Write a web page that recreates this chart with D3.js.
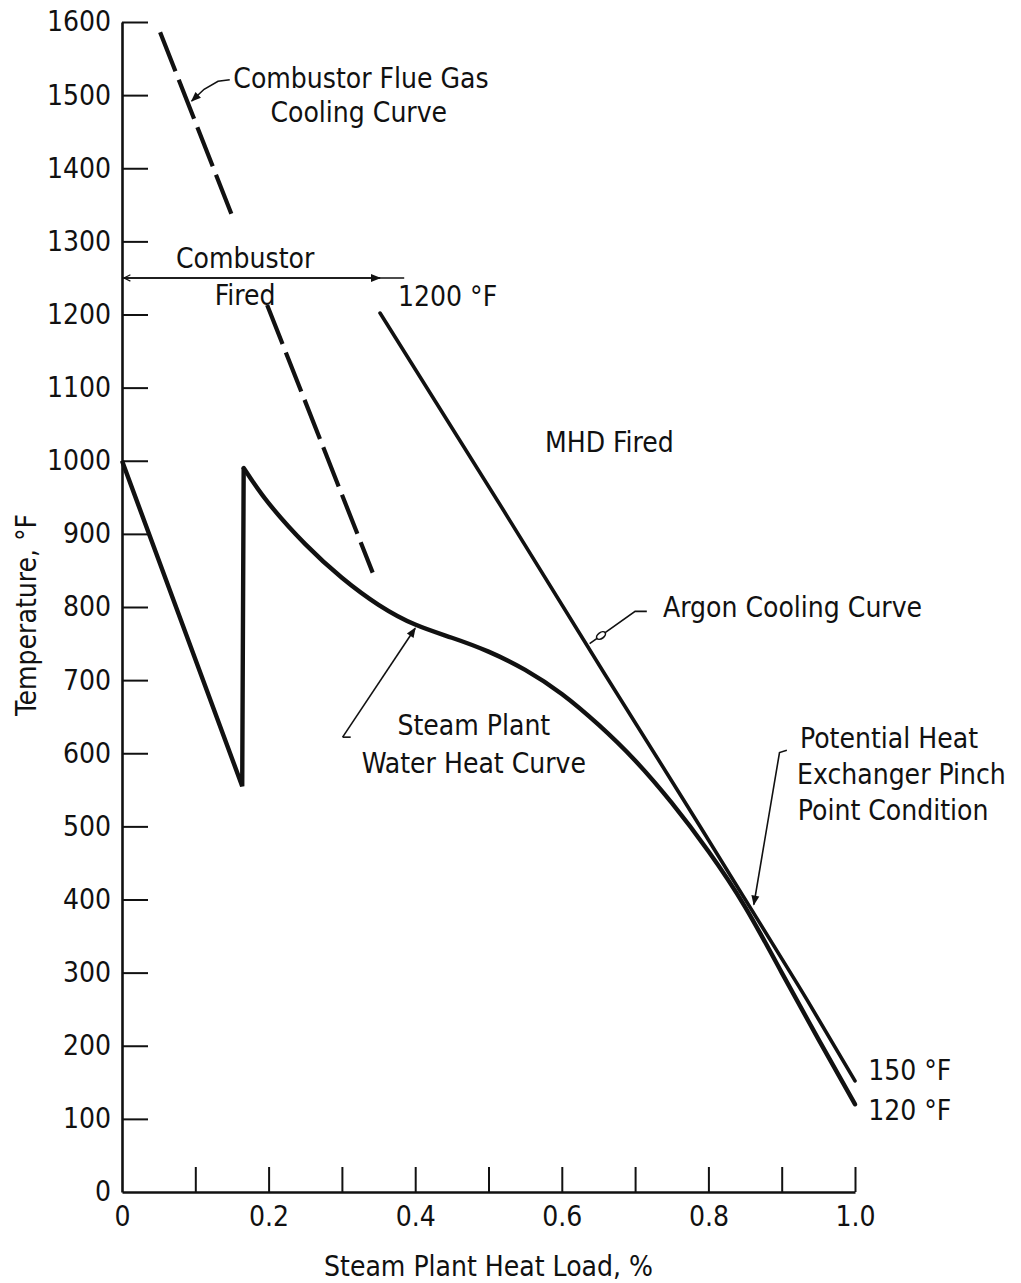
<!DOCTYPE html>
<html><head><meta charset="utf-8">
<script src="https://cdn.jsdelivr.net/npm/d3@7"></script>
<style>
body{margin:0;background:#fff}
svg text{font-family:"Liberation Sans Narrow","DejaVu Sans Condensed","Arial Narrow",sans-serif;fill:#111;font-stretch:condensed}
</style></head><body><svg id="c" width="1021" height="1283"></svg>
<script>
// ---- data ----
const xTicks = [0, 0.1, 0.2, 0.3, 0.4, 0.5, 0.6, 0.7, 0.8, 0.9, 1.0];
const xTickLabels = ["0", "", "0.2", "", "0.4", "", "0.6", "", "0.8", "", "1.0"];
const yTicks = [0,100,200,300,400,500,600,700,800,900,1000,1100,1200,1300,1400,1500,1600];
const yTickLabels = ["0","100","200","300","400","500","600","700","800","900","1000","1100","1200","1300","1400","1500","1600"];

// Steam plant water heat curve: sawtooth part, then smooth part
const steamSawX = [0, 0.164, 0.166];
const steamSawT = [1000, 555, 990];
const steamCurveX = [0.166, 0.20, 0.25, 0.30, 0.35, 0.40, 0.45, 0.50, 0.55, 0.60, 0.65, 0.70, 0.75, 0.80, 0.85, 0.90, 0.95, 1.0];
const steamCurveT = [990, 942, 886, 840, 803, 776, 758, 739, 714, 681, 639, 590, 532, 466, 390, 300, 209, 120];

// Argon cooling curve
const argonX = [0.352, 0.52, 0.66, 0.77, 0.87, 0.935, 1.0];
const argonT = [1202, 933, 706, 530, 368, 262, 152];

// Combustor flue gas cooling curve (dashed, interrupted by the label)
const combSeg1X = [0.052, 0.151];
const combSeg1T = [1586, 1333];
const combSeg2X = [0.198, 0.342];
const combSeg2T = [1213, 847];

// Combustor-fired range arrow
const firedRangeX = [0, 0.385];
const firedRangeT = 1250;
const firedArrowTipX = 0.352;

// ---- chart ----
const x = d3.scaleLinear().domain([0, 1]).range([122, 855]);
const y = d3.scaleLinear().domain([0, 1600]).range([1192, 22]);
const svg = d3.select("#c");
const zip = (a, b) => a.map((v, i) => [v, b[i]]);

const FS = 28;

// axes
const gx = svg.append("g").attr("transform", `translate(0,${y(0)})`)
  .call(d3.axisBottom(x).tickValues(xTicks).tickSizeInner(-25).tickSizeOuter(0).tickPadding(14)
    .tickFormat((d, i) => xTickLabels[i]));
const gy = svg.append("g").attr("transform", `translate(${x(0)},0)`)
  .call(d3.axisLeft(y).tickValues(yTicks).tickSizeInner(-26).tickSizeOuter(0).tickPadding(11)
    .tickFormat((d, i) => yTickLabels[i]));
[gx, gy].forEach(g => {
  g.select(".domain").attr("stroke", "#111").attr("stroke-width", 2.6);
  g.selectAll(".tick line").attr("stroke", "#111").attr("stroke-width", 2);
  g.selectAll(".tick text").attr("font-size", FS).attr("font-family", null).attr("fill", "#111");
});
gx.select(".tick line").remove();
gy.selectAll(".tick").filter(d => d === 0).select("line").remove();

// axis titles
svg.append("text").attr("x", (x(0) + x(1)) / 2).attr("y", 1276).attr("text-anchor", "middle")
  .attr("font-size", FS).text("Steam Plant Heat Load, %");
svg.append("text").attr("transform", `translate(36,${(y(0)+y(1600))/2 + 8}) rotate(-90)`)
  .attr("text-anchor", "middle").attr("font-size", FS).text("Temperature, \u00B0F");

const line = d3.line().x(d => x(d[0])).y(d => y(d[1]));
const smooth = d3.line().x(d => x(d[0])).y(d => y(d[1])).curve(d3.curveNatural);

// curves
svg.append("path").datum(zip(steamSawX, steamSawT)).attr("d", line)
  .attr("fill", "none").attr("stroke", "#111").attr("stroke-width", 4.4).attr("stroke-linejoin", "miter");
svg.append("path").datum(zip(steamCurveX, steamCurveT)).attr("d", smooth)
  .attr("fill", "none").attr("stroke", "#111").attr("stroke-width", 4.4).attr("stroke-linecap", "round");
svg.append("path").datum(zip(argonX, argonT)).attr("d", smooth)
  .attr("fill", "none").attr("stroke", "#111").attr("stroke-width", 3.6).attr("stroke-linecap", "round");
[zip(combSeg1X, combSeg1T), zip(combSeg2X, combSeg2T)].forEach(seg => {
  svg.append("path").datum(seg).attr("d", line)
    .attr("fill", "none").attr("stroke", "#111").attr("stroke-width", 4.2).attr("stroke-dasharray", "42,9");
});

// arrow markers
const defs = svg.append("defs");
defs.append("marker").attr("id", "ah").attr("viewBox", "0 0 10 10").attr("refX", 9).attr("refY", 5)
  .attr("markerWidth", 16).attr("markerHeight", 10).attr("markerUnits", "userSpaceOnUse").attr("orient", "auto")
  .append("path").attr("d", "M0,1 L10,5 L0,9 Z").attr("fill", "#111");
defs.append("marker").attr("id", "ahOpen").attr("viewBox", "0 0 10 10").attr("refX", 1).attr("refY", 5)
  .attr("markerWidth", 14).attr("markerHeight", 8).attr("markerUnits", "userSpaceOnUse").attr("orient", "auto")
  .append("path").attr("d", "M9,1 L1,5 L9,9").attr("fill", "none").attr("stroke", "#111").attr("stroke-width", 1.5);

// combustor fired range arrow
svg.append("line").attr("x1", x(firedRangeX[0])).attr("x2", x(firedRangeX[1]))
  .attr("y1", y(firedRangeT)).attr("y2", y(firedRangeT)).attr("stroke", "#111").attr("stroke-width", 1.6);
svg.append("line").attr("x1", x(firedRangeX[0]) + 2).attr("x2", x(firedArrowTipX))
  .attr("y1", y(firedRangeT)).attr("y2", y(firedRangeT)).attr("stroke", "#111").attr("stroke-width", 1.6)
  .attr("marker-end", "url(#ah)").attr("marker-start", "url(#ahOpen)");

// leader lines (data coordinates)
const leaders = [
  { pts: [[0.147, 1521], [0.131, 1519], [0.112, 1508], [0.095, 1492]], head: true },   // flue gas
  { pts: [[0.301, 622], [0.400, 771]], head: true },                                       // steam plant
  { pts: [[0.716, 794], [0.700, 794], [0.638, 750]], head: false, ring: true },           // argon
  { pts: [[0.907, 604], [0.897, 601], [0.862, 393]], head: true }                          // pinch
];
leaders.forEach(l => {
  const p = svg.append("path").datum(l.pts).attr("d", line).attr("fill", "none")
    .attr("stroke", "#111").attr("stroke-width", 1.6);
  if (l.head) p.attr("marker-end", "url(#ah)");
  if (l.ring) {
    const a = l.pts[l.pts.length - 2], b = l.pts[l.pts.length - 1];
    const mx = x(b[0]) + (x(a[0]) - x(b[0])) * 0.25, my = y(b[1]) + (y(a[1]) - y(b[1])) * 0.25;
    svg.append("ellipse").attr("cx", mx).attr("cy", my).attr("rx", 5).attr("ry", 3)
      .attr("transform", `rotate(-35,${mx},${my})`).attr("fill", "#fff").attr("stroke", "#111").attr("stroke-width", 1.6);
  }
});
// small hook at the start of the steam-plant leader
svg.append("path").datum([[0.301, 622], [0.312, 622]]).attr("d", line).attr("stroke", "#111").attr("stroke-width", 1.6);

// annotation texts (data coordinates)
const labels = [
  { t: "Combustor Flue Gas", x: 0.326, T: 1510, a: "middle" },
  { t: "Cooling Curve", x: 0.323, T: 1463, a: "middle" },
  { t: "Combustor", x: 0.168, T: 1264, a: "middle" },
  { t: "Fired", x: 0.168, T: 1213, a: "middle" },
  { t: "1200 \u00B0F", x: 0.3765, T: 1212, a: "start" },
  { t: "MHD Fired", x: 0.577, T: 1012, a: "start" },
  { t: "Argon Cooling Curve", x: 0.738, T: 786, a: "start" },
  { t: "Steam Plant", x: 0.480, T: 625, a: "middle" },
  { t: "Water Heat Curve", x: 0.480, T: 573, a: "middle" },
  { t: "Potential Heat", x: 0.925, T: 607, a: "start" },
  { t: "Exchanger Pinch", x: 0.921, T: 558, a: "start" },
  { t: "Point Condition", x: 0.922, T: 509, a: "start" },
  { t: "150 \u00B0F", x: 1.018, T: 153, a: "start" },
  { t: "120 \u00B0F", x: 1.018, T: 98, a: "start" }
];
svg.selectAll("text.lab").data(labels).join("text").attr("class", "lab")
  .attr("x", d => x(d.x)).attr("y", d => y(d.T)).attr("text-anchor", d => d.a)
  .attr("font-size", FS).text(d => d.t);
</script></body></html>
